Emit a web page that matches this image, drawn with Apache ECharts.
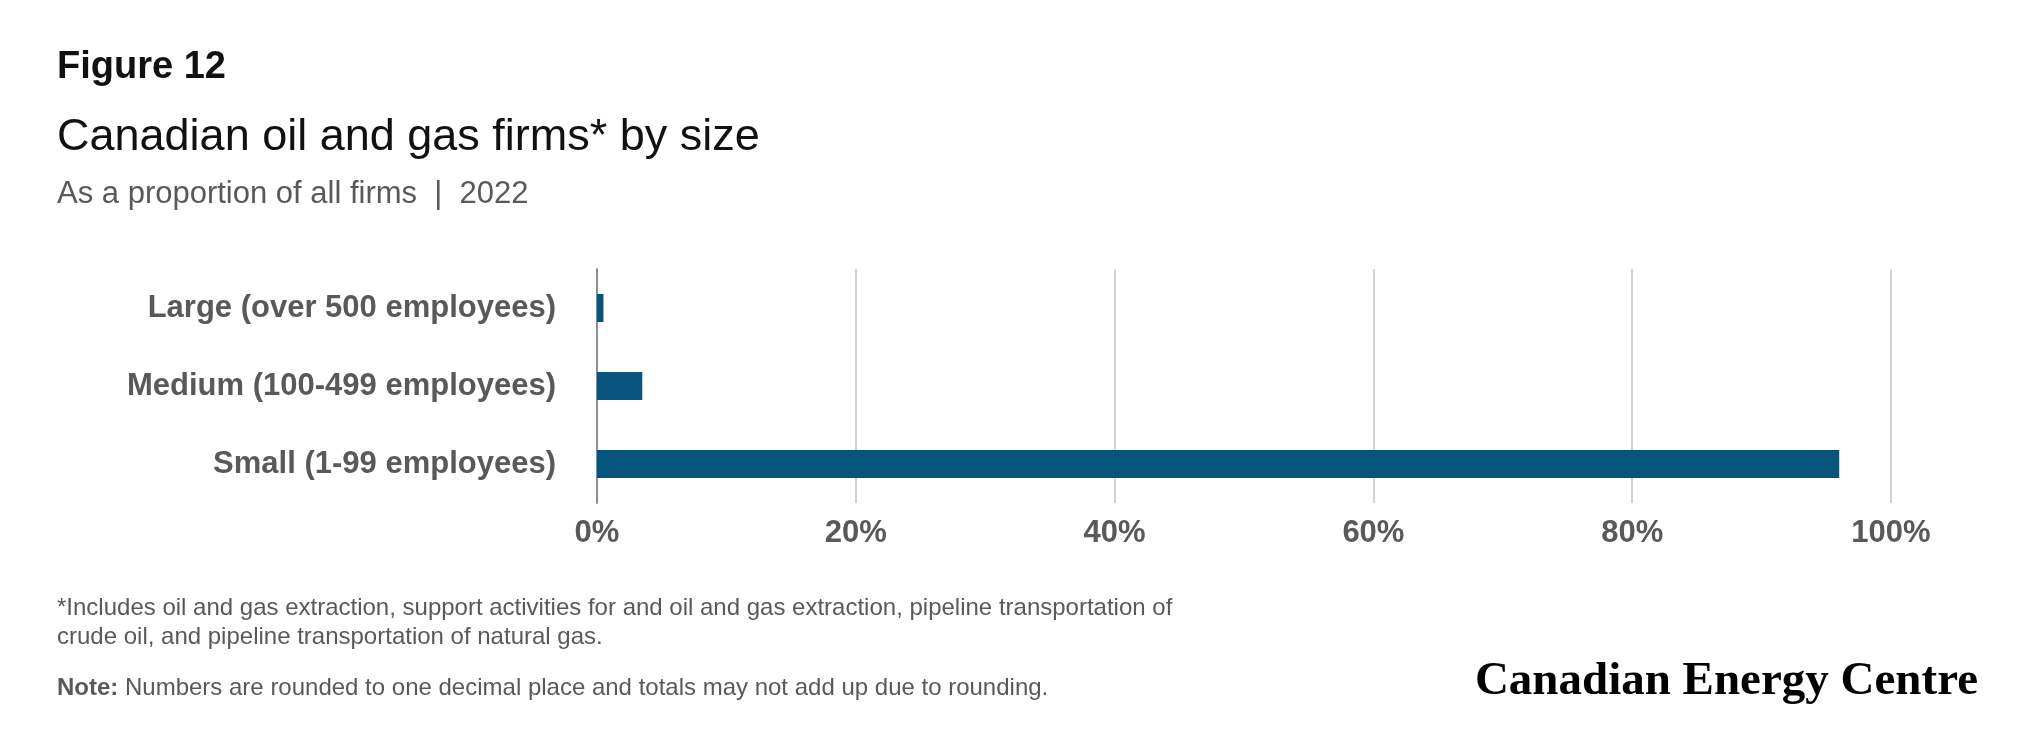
<!DOCTYPE html>
<html lang="en">

<head>
    <meta charset="UTF-8">
    <title>Canadian oil and gas firms by size</title>
    <script src="https://cdn.jsdelivr.net/npm/echarts@6/dist/echarts.min.js"></script>
    <style>
        html, body { margin: 0; padding: 0; background: #fff; }
    </style>
</head>

<body>
    <div id="main" style="width: 2025px;height:750px;"></div>
    <script type="text/javascript">
        // data
        var categories = ['Large (over 500 employees)', 'Medium (100-499 employees)', 'Small (1-99 employees)']
        var shares = [0.5, 3.5, 96.0]
        var xTicks = [0, 20, 40, 60, 80, 100]

        var grey = '#58595b'
        var sans = '"Liberation Sans", Arial, sans-serif'

        var myChart = echarts.init(document.getElementById('main'));

        var option = {
            backgroundColor: '#fff',
            title: [
                { text: 'Figure 12', left: 57, top: 49, padding: 0,
                  textStyle: { fontFamily: sans, fontSize: 38, fontWeight: 'bold', color: '#111' } },
                { text: 'Canadian oil and gas firms* by size', left: 57, top: 115, padding: 0,
                  textStyle: { fontFamily: sans, fontSize: 45, fontWeight: 'normal', color: '#111' } },
                { text: 'As a proportion of all firms  |  2022', left: 57, top: 179, padding: 0,
                  textStyle: { fontFamily: sans, fontSize: 31, fontWeight: 'normal', color: grey } },
                { text: '*Includes oil and gas extraction, support activities for and oil and gas extraction, pipeline transportation of\ncrude oil, and pipeline transportation of natural gas.',
                  left: 57, top: 594, padding: 0,
                  textStyle: { fontFamily: sans, fontSize: 24, fontWeight: 'normal', color: grey, lineHeight: 29 } },
                { text: '{b|Note:} Numbers are rounded to one decimal place and totals may not add up due to rounding.',
                  left: 57, top: 676, padding: 0,
                  textStyle: { fontFamily: sans, fontSize: 24, fontWeight: 'normal', color: grey,
                      rich: { b: { fontFamily: sans, fontSize: 24, fontWeight: 'bold', color: grey } } } },
                { text: 'Canadian Energy Centre', right: 47, top: 658, padding: 0,
                  textStyle: { fontFamily: '"Liberation Serif", "Times New Roman", serif', fontSize: 47, fontWeight: 'bold', color: '#000' } }
            ],
            grid: { left: 597, right: 134, top: 269, height: 234 },
            xAxis: {
                type: 'value',
                min: xTicks[0],
                max: xTicks[xTicks.length - 1],
                interval: xTicks[1] - xTicks[0],
                axisLine: { show: false },
                axisTick: { show: false },
                splitLine: { lineStyle: { color: '#c4c4c4', width: 1.5 } },
                axisLabel: {
                    formatter: '{value}%', margin: 15,
                    fontFamily: sans, fontSize: 31, fontWeight: 'bold', color: grey
                }
            },
            yAxis: {
                type: 'category',
                data: categories,
                inverse: true,
                axisLine: { show: true, lineStyle: { color: '#8e8e8e', width: 2 } },
                axisTick: { show: false },
                axisLabel: {
                    margin: 41,
                    fontFamily: sans, fontSize: 31, fontWeight: 'bold', color: grey
                }
            },
            series: [{
                type: 'bar',
                data: shares,
                barWidth: 28,
                itemStyle: { color: '#07557f' },
                z: 3
            }],
            animation: false
        };

        myChart.setOption(option);
    </script>
</body>

</html>
